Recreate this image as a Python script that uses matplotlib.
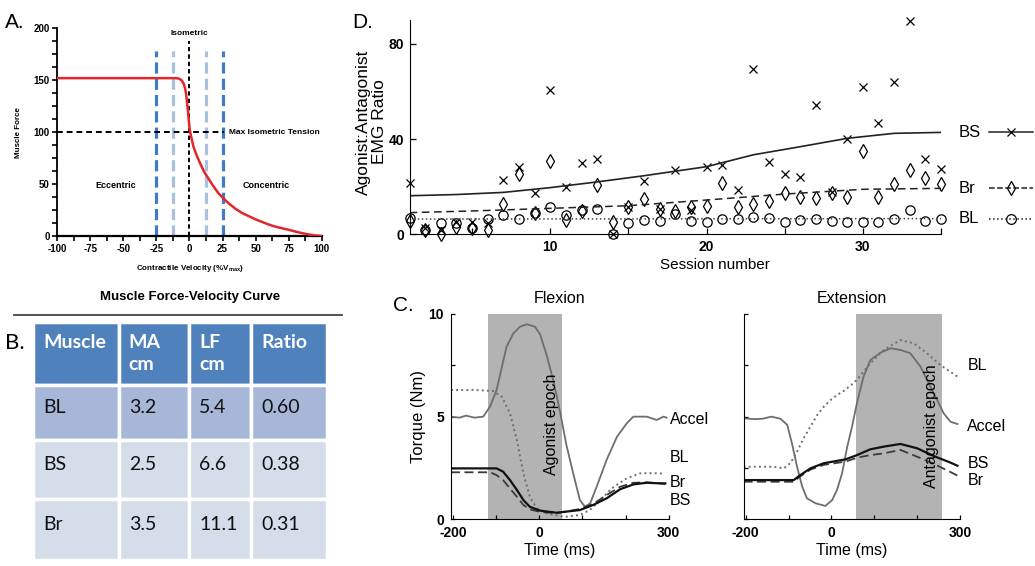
import numpy as np
import matplotlib
matplotlib.use('Agg')
import matplotlib.pyplot as plt
from matplotlib.lines import Line2D

plt.rcParams['font.family'] = ['Liberation Sans', 'DejaVu Sans']
plt.rcParams['axes.unicode_minus'] = False

W, H = 1035, 566

# --- A: force-velocity curve
velocity = [-100, -10, -8, -6, -4.5, -3.3, -2.5, -1.8, -1, 0, 1, 3, 5, 8, 11, 14,
            18, 22, 25, 30, 35, 40, 45, 50, 55, 60, 65, 70, 75, 80, 85, 90, 95, 100]
force = [152, 152, 151.5, 150, 147, 142, 136, 128, 118, 104, 97, 86, 79, 70, 62, 56,
         48, 41, 37, 31, 26, 22, 19, 16, 13.5, 11, 9, 7.5, 6, 4.3, 2.8, 1.5, 0.6, 0]
outer_lines = [-25, 25]
inner_lines = [-12.5, 12.5]
max_tension = 100

# --- B: table
table_head = ['Muscle\n ', 'MA\ncm', 'LF\ncm', 'Ratio\n ']
table_rows = [['BL', '3.2', '5.4', '0.60'],
              ['BS', '2.5', '6.6', '0.38'],
              ['Br', '3.5', '11.1', '0.31']]

# --- D: agonist:antagonist EMG ratio per session
sessions = np.arange(1, 36)
bs_ratio = [21.4, 2.5, 2.0, 5.0, 5.0, 4.6, 22.8, 28.4, 17.5, 60.8, 19.7, 29.8, 31.7, 0.3, 11.3,
            22.4, 10.5, 27.0, 10.0, 28.1, 29.1, 18.6, 69.4, 30.5, 25.5, 24.2, 54.1, 17.9, 39.9,
            61.7, 46.6, 63.9, 89.5, 31.6, 27.4]
br_ratio = [5.7, 2.0, 0.0, 3.2, 2.5, 1.8, 12.6, 25.5, 8.8, 30.6, 6.0, 9.9, 20.7, 5.3, 11.3,
            14.8, 10.6, 9.9, 11.6, 12.0, 21.7, 11.3, 12.7, 14.0, 17.5, 15.5, 15.1, 17.5, 15.5,
            35.1, 15.8, 21.3, 26.9, 23.8, 21.3]
bl_ratio = [6.7, 1.8, 4.6, 4.9, 2.5, 6.4, 8.1, 6.3, 9.1, 11.6, 8.1, 10.2, 10.5, 0.0, 4.9,
            6.0, 5.7, 8.5, 5.7, 5.3, 6.3, 6.3, 7.1, 6.7, 5.3, 6.0, 6.3, 5.7, 5.3,
            5.3, 5.3, 6.3, 10.2, 5.7, 6.6]
bs_fit_s = [1, 4, 7, 10, 13, 16, 20, 23, 26, 29, 32, 35]
bs_fit_v = [16.2, 16.7, 17.6, 19.6, 22.0, 24.6, 28.4, 33.4, 36.8, 40.3, 42.4, 42.8]
br_fit_s = [1, 5, 10, 15, 20, 25, 30, 35]
br_fit_v = [9.1, 9.8, 10.9, 12.0, 14.4, 16.9, 18.9, 19.3]
bl_fit_s = [1, 35]
bl_fit_v = [6.4, 6.6]

# --- C: flexion traces (time ms, torque Nm)
flex_epoch = (-120, 52)
flex_accel_t = [-205, -185, -170, -150, -130, -114, -99, -87, -76, -60, -45, -29, -10, 2, 17,
                32, 48, 63, 79, 94, 106, 118, 133, 156, 180, 203, 218, 249, 272, 288, 295]
flex_accel_v = [5.0, 4.95, 5.05, 4.95, 5.0, 5.5, 6.3, 7.4, 8.4, 9.06, 9.38, 9.5, 9.38, 9.0, 8.0,
                6.8, 5.25, 3.6, 2.2, 0.94, 0.61, 0.78, 1.59, 2.89, 4.02, 4.68, 5.0, 5.0, 4.84, 5.0, 4.95]
flex_bl_t = [-205, -150, -107, -87, -68, -52, -37, -22, -6, 17, 50, 63, 94, 117, 140, 168,
             203, 234, 264, 290]
flex_bl_v = [6.3, 6.3, 6.25, 5.97, 5.16, 3.86, 2.24, 1.1, 0.54, 0.29, 0.15, 0.13, 0.21, 0.45,
             0.9, 1.51, 2.0, 2.24, 2.25, 2.22]
flex_bs_t = [-205, -99, -84, -68, -52, -37, -22, 2, 40, 94, 125, 156, 187, 218, 249, 280, 292]
flex_bs_v = [2.48, 2.48, 2.32, 1.91, 1.43, 0.94, 0.61, 0.42, 0.32, 0.45, 0.7, 1.02, 1.46,
             1.7, 1.78, 1.75, 1.75]
flex_br_t = [-205, -114, -99, -84, -68, -52, -37, -22, 2, 40, 94, 125, 156, 187, 218, 249, 280, 292]
flex_br_v = [2.29, 2.29, 2.15, 1.91, 1.5, 1.1, 0.7, 0.48, 0.36, 0.3, 0.5, 0.75, 1.18, 1.58,
             1.78, 1.8, 1.75, 1.72]

# --- C: extension traces
ext_epoch = (58, 258)
ext_accel_t = [-205, -180, -160, -140, -119, -103, -92, -80, -68, -57, -37, -14, 2, 13, 25, 37,
               48, 60, 75, 91, 114, 138, 161, 184, 208, 227, 243, 262, 278, 294]
ext_accel_v = [4.92, 4.88, 4.9, 5.0, 4.9, 4.6, 3.7, 2.56, 1.59, 1.02, 0.78, 0.65, 0.94, 1.43,
               2.24, 3.54, 4.5, 5.7, 6.95, 7.76, 8.11, 8.33, 8.25, 8.09, 7.43, 6.62, 5.97, 5.16,
               4.75, 4.64]
ext_bl_t = [-205, -135, -111, -96, -80, -65, -49, -33, -18, -2, 13, 29, 44, 60, 91, 122, 161,
            192, 223, 254, 294]
ext_bl_v = [2.56, 2.56, 2.48, 2.73, 3.29, 3.94, 4.51, 5.08, 5.48, 5.81, 6.05, 6.26, 6.5, 6.8,
            7.6, 8.25, 8.73, 8.57, 8.09, 7.52, 6.95]
ext_bs_t = [-205, -88, -72, -49, -18, 33, 60, 91, 122, 161, 200, 239, 278, 294]
ext_bs_v = [1.91, 1.91, 2.16, 2.48, 2.73, 2.92, 3.13, 3.41, 3.54, 3.67, 3.46, 3.08, 2.76, 2.61]
ext_br_t = [-205, -88, -72, -49, -18, 33, 60, 91, 122, 161, 200, 239, 278, 294]
ext_br_v = [1.83, 1.83, 2.1, 2.42, 2.65, 2.81, 3.0, 3.13, 3.21, 3.38, 3.05, 2.7, 2.3, 2.13]


def box(l, t, r, b):
	# pixel box -> figure fraction rect
	return [l / W, 1 - b / H, (r - l) / W, (b - t) / H]


def fpos(x, y):
	return x / W, 1 - y / H


def bold_xticks(ax, ticks):
	ax.set_xticks(ticks, labels=['%g' % t for t in ticks], fontweight='bold')


def bold_yticks(ax, ticks):
	ax.set_yticks(ticks, labels=['%g' % t for t in ticks], fontweight='bold')


fig = plt.figure(figsize=(W / 100, H / 100), dpi=100)

# ---------------- A
ax = fig.add_axes(box(57.3, 28.3, 321.7, 236))
ax.plot(velocity, force, color='#e3262b', lw=1.8, zorder=3)
ax.vlines(outer_lines, 0, 178, colors='#3f7bc6', lw=2.3, linestyles=(0, (3.5, 1.6)))
ax.vlines(inner_lines, 0, 178, colors='#a9c1df', lw=2.3, linestyles=(0, (3.5, 1.6)))
ax.vlines(0, 0, 188, colors='k', lw=1.4, linestyles=(0, (2.2, 1.6)))
ax.hlines(max_tension, -100, 26, colors='k', lw=1.4, linestyles=(0, (3, 2)))
ax.text(0, 195, 'Isometric', ha='center', va='center', fontsize=6, fontweight='bold')
ax.text(29.6, max_tension, 'Max Isometric Tension', ha='left', va='center', fontsize=6, fontweight='bold')
ax.text(-56, 48.5, 'Eccentric', ha='center', va='center', fontsize=6.5, fontweight='bold')
ax.text(58, 48.5, 'Concentric', ha='center', va='center', fontsize=6.5, fontweight='bold')
ax.set_xlim(-100, 100)
ax.set_ylim(0, 200)
bold_xticks(ax, np.arange(-100, 101, 25))
ax.set_xticks(np.arange(-100, 101, 12.5), minor=True)
bold_yticks(ax, np.arange(0, 201, 50))
ax.set_yticks(np.arange(0, 201, 12.5), minor=True)
ax.tick_params(which='both', direction='out', length=3.5, width=1.2, labelsize=7, pad=2)
for s in ['top', 'right']:
	ax.spines[s].set_visible(False)
ax.spines['bottom'].set_linewidth(1.6)
ax.spines['left'].set_linewidth(1.3)
ax.set_ylabel('Muscle Force', fontsize=5.8, fontweight='bold', labelpad=8)
ax.set_xlabel(r'Contractile Velocity (%V$_\mathregular{max}$)', fontsize=5.8, fontweight='bold', labelpad=7)

fig.text(*fpos(190, 297), 'Muscle Force-Velocity Curve', ha='center', va='center',
         fontsize=9.5, fontweight='bold')
fig.add_artist(Line2D([14 / W, 342 / W], [1 - 315 / H] * 2, color='#444444', lw=1.3))

# ---------------- B
ax_b = fig.add_axes(box(33, 322, 327, 560))
ax_b.axis('off')
col_px = [85, 70, 62, 75]
row_px = [61, 54, 57, 59]
tbl = ax_b.table(cellText=table_rows, colLabels=table_head,
                 colWidths=[c / sum(col_px) for c in col_px],
                 cellLoc='left', colLoc='left', bbox=[0, 0, 1, 1])
tbl.auto_set_font_size(False)
row_colors = ['#a7b7d7', '#d5dcea', '#d5dcea']
for (r, c), cell in tbl.get_celld().items():
	cell.set_edgecolor('white')
	cell.set_linewidth(2.5)
	cell.set_height(row_px[r] / sum(row_px))
	cell.PAD = 10 / col_px[c]
	txt = cell.get_text()
	txt.set_fontfamily(['Lato', 'DejaVu Sans'])
	txt.set_fontsize(14)
	if r == 0:
		cell.set_facecolor('#4f81bd')
		txt.set_color('white')
		txt.set_fontweight('bold')
		txt.set_linespacing(1.4)
	else:
		cell.set_facecolor(row_colors[r - 1])
		txt.set_color('#111111')
		txt.set_verticalalignment('baseline')

# ---------------- D
ax = fig.add_axes(box(409.6, 20, 941, 234.3))
ax.plot(sessions, bs_ratio, 'x', color='k', ms=6, mew=0.9, clip_on=False)
ax.plot(sessions, br_ratio, 'd', mfc='none', mec='k', ms=7.5, mew=0.9, clip_on=False)
ax.plot(sessions, bl_ratio, 'o', mfc='none', mec='k', ms=6.7, mew=0.9, clip_on=False)
ax.plot(bs_fit_s, bs_fit_v, '-', color='#222222', lw=1.2)
ax.plot(br_fit_s, br_fit_v, '--', color='#222222', lw=1.1, dashes=(5, 3))
ax.plot(bl_fit_s, bl_fit_v, ':', color='#444444', lw=1.1)
legend_items = [('BS', bs_fit_v[-1], '-', 'x'), ('Br', br_fit_v[-1], '--', 'd'), ('BL', bl_fit_v[-1], ':', 'o')]
for name, yv, ls, mk in legend_items:
	ax.text(36.15, yv, name, ha='left', va='center', fontsize=12, clip_on=False)
	ax.plot([38.1, 40.9], [yv, yv], ls=ls, color='#222222', lw=1.1, clip_on=False)
	ax.plot([39.5], [yv], marker=mk, mfc='none', mec='k', ms=7 if mk != 'x' else 6, mew=0.9,
	        clip_on=False)
ax.set_xlim(1, 35)
ax.set_ylim(0, 90)
bold_xticks(ax, [10, 20, 30])
ax.set_xticks([5, 15, 25, 35], minor=True)
bold_yticks(ax, [0, 40, 80])
ax.tick_params(which='both', direction='in', length=4, width=0.9, labelsize=10, pad=4)
for s in ['top', 'right']:
	ax.spines[s].set_visible(False)
ax.set_xlabel('Session number', fontsize=11)
ax.xaxis.set_label_coords(0.575, -0.11)
ax.set_ylabel('Agonist:Antagonist\nEMG Ratio', fontsize=12.5, linespacing=1.1)
ax.yaxis.set_label_coords(-0.042, 0.524)


# ---------------- C
def trace_panel(rect, title, epoch, epoch_label, epoch_pos, accel, bl, bs, br, labels, label_x):
	ax = fig.add_axes(rect)
	ax.axvspan(*epoch, color='#b3b3b3', lw=0)
	ax.plot(*accel, color='#6e6e6e', lw=1.3)
	ax.plot(*bl, ':', color='#6e6e6e', lw=1.4)
	ax.plot(*br, '--', color='#3a3a3a', lw=1.3, dashes=(5, 2.5))
	ax.plot(*bs, '-', color='#111111', lw=1.6)
	ax.text(*epoch_pos, epoch_label, rotation=90, ha='center', va='center', fontsize=11.5)
	for name, yv in labels:
		ax.text(label_x, yv, name, ha='left', va='center', fontsize=11.5, clip_on=False)
	ax.set_xlim(-205, 300)
	ax.set_ylim(0, 10)
	bold_xticks(ax, [-200, 0, 300])
	ax.set_xticks([-100, 100, 200], minor=True)
	bold_yticks(ax, [0, 5, 10])
	ax.set_yticks([2.5, 7.5], minor=True)
	ax.tick_params(which='both', direction='in', length=3, width=0.9, labelsize=10, pad=5)
	for s in ['top', 'right']:
		ax.spines[s].set_visible(False)
	ax.set_title(title, fontsize=11.5, pad=8)
	ax.set_xlabel('Time (ms)', fontsize=11.5, labelpad=2)
	return ax


ax_f = trace_panel(box(450.9, 314, 668.7, 519.3), 'Flexion', flex_epoch, 'Agonist epoch', (29, 4.65),
                   (flex_accel_t, flex_accel_v), (flex_bl_t, flex_bl_v),
                   (flex_bs_t, flex_bs_v), (flex_br_t, flex_br_v),
                   [('Accel', 4.84), ('BL', 3.03), ('Br', 1.77), ('BS', 0.94)], 303)
ax_f.set_ylabel('Torque (Nm)', fontsize=12)
ax_f.yaxis.set_label_coords(-0.114, 0.5)

ax_e = trace_panel(box(743.5, 314, 960, 519.3), 'Extension', ext_epoch, 'Antagonist epoch', (233, 4.55),
                   (ext_accel_t, ext_accel_v), (ext_bl_t, ext_bl_v),
                   (ext_bs_t, ext_bs_v), (ext_br_t, ext_br_v),
                   [('BL', 7.47), ('Accel', 4.5), ('BS', 2.74), ('Br', 1.91)], 317)
ax_e.tick_params(labelleft=False)

# panel letters
fig.text(*fpos(5, 23), 'A.', fontsize=15, va='center')
fig.text(*fpos(5, 343), 'B.', fontsize=16, va='center', family=['Lato', 'DejaVu Sans'])
fig.text(*fpos(393, 305), 'C.', fontsize=15, va='center')
fig.text(*fpos(352, 22), 'D.', fontsize=15, va='center')

fig.savefig('out.png', dpi=100)
